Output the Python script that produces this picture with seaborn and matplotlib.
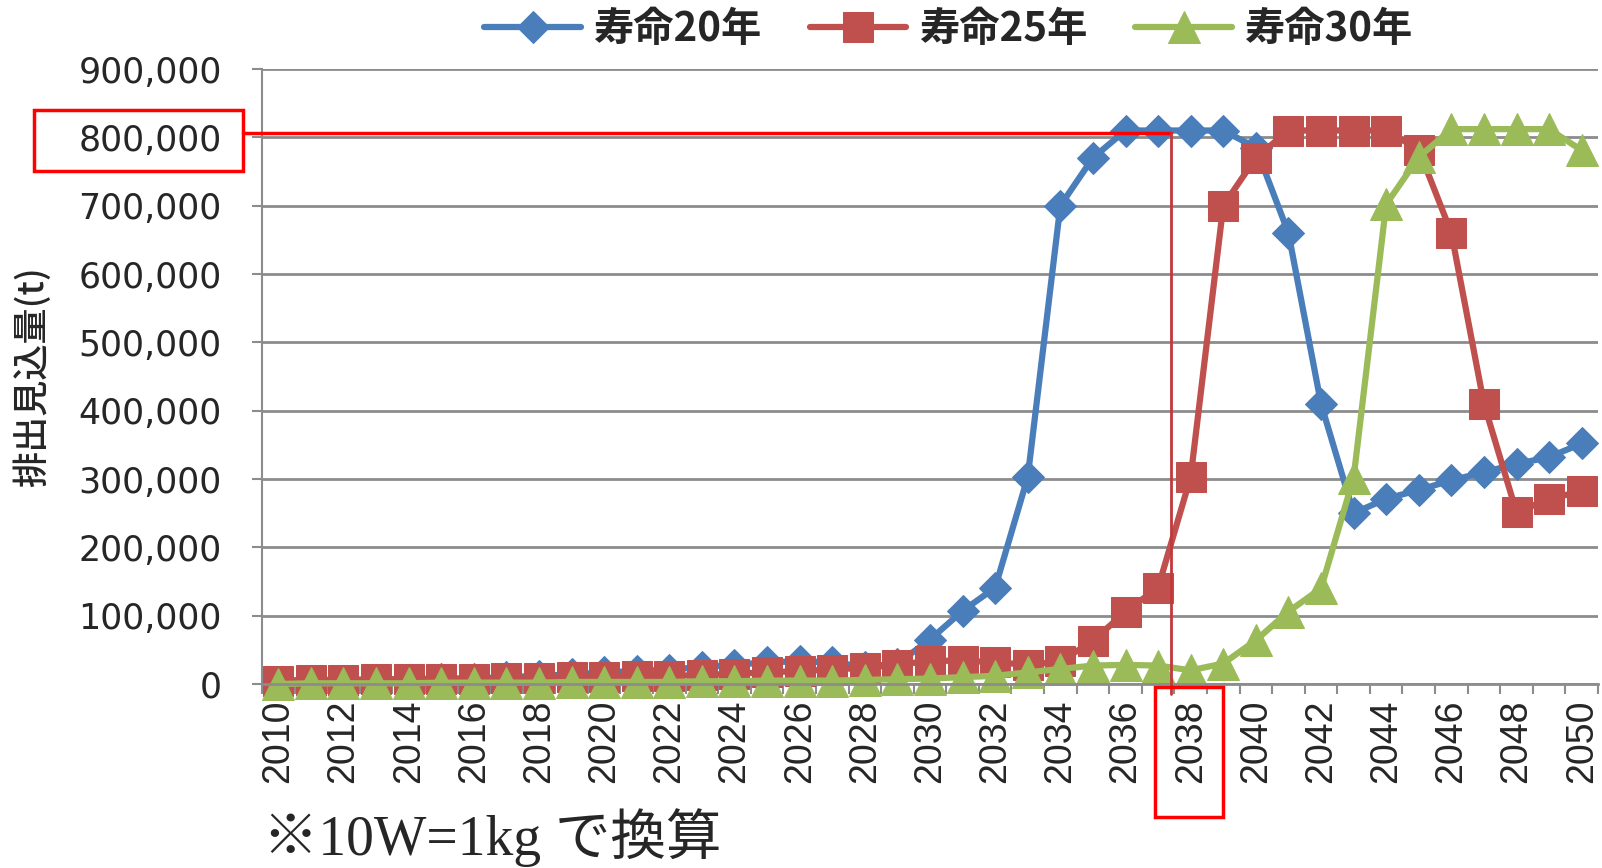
import numpy as np
import pandas as pd
import seaborn as sns
import matplotlib.pyplot as plt
from matplotlib.patches import Rectangle
from matplotlib.ticker import FuncFormatter, MultipleLocator

# 年
years = list(range(2010, 2051))

# 寿命20年
life20 = [3000, 3000, 4000, 5000, 6000, 7000, 8000, 10000, 12000, 14000,
          17000, 19000, 21000, 25000, 28000, 32000, 33000, 32000, 25000, 30000,
          65000, 107000, 141000, 303000, 700000, 770000, 810000, 810000, 810000, 810000,
          785000, 660000, 410000, 250000, 271000, 284000, 298000, 310000, 322000, 332000,
          352000]

# 寿命25年
life25 = [5000, 6000, 6000, 7000, 7000, 8000, 8000, 9000, 9000, 10000,
          10000, 11000, 12000, 13000, 15000, 17000, 19000, 21000, 24000, 28000,
          34000, 34000, 32000, 28000, 33000, 63000, 106000, 141000, 303000, 700000,
          770000, 810000, 810000, 810000, 810000, 782000, 660000, 410000, 251000, 271000,
          282000]

# 寿命30年
life30 = [0, 1000, 1000, 1000, 1000, 2000, 2000, 2000, 2000, 3000,
          3000, 3000, 3000, 4000, 4000, 5000, 5000, 5000, 6000, 7000,
          8000, 10000, 12000, 17000, 22000, 27000, 28000, 27000, 20000, 30000,
          64000, 106000, 140000, 302000, 702000, 771000, 812000, 812000, 812000, 812000,
          781000]

series_names = ["寿命20年", "寿命25年", "寿命30年"]
colors = ["#4A7EBB", "#C0504D", "#9BBB59"]
markers = ["D", "s", "^"]
msizes = [16, 22, 23]

df = pd.DataFrame({"year": years * 3,
                   "value": life20 + life25 + life30,
                   "series": sum([[n] * len(years) for n in series_names], [])})

sns.set_style("white")
plt.rcParams['font.family'] = ['DejaVu Sans', 'Noto Sans CJK JP']

fig = plt.figure(figsize=(16.02, 8.68), dpi=100)
ax = fig.add_axes([262 / 1602, 1 - 684 / 868, 1336 / 1602, 615 / 868])

for name, c, m, ms in zip(series_names, colors, markers, msizes):
    sub = df[df["series"] == name]
    sns.lineplot(data=sub, x="year", y="value", ax=ax, color=c, linewidth=4.5,
                 marker=m, markersize=ms, markeredgecolor=c, label=name,
                 clip_on=False)

ax.set_xlim(2009.5, 2050.5)
ax.set_ylim(0, 900000)
ax.yaxis.set_major_locator(MultipleLocator(100000))
ax.yaxis.set_major_formatter(FuncFormatter(lambda v, p: f"{int(v):,}"))
ax.grid(axis="y", color="#8C8C8C", linewidth=2)
ax.set_axisbelow(True)

for s in ["top", "right"]:
    ax.spines[s].set_visible(False)
ax.spines["left"].set_color("#8C8C8C")
ax.spines["left"].set_linewidth(1.5)
ax.spines["bottom"].set_color("#8C8C8C")
ax.spines["bottom"].set_linewidth(2)

ax.set_xticks(range(2010, 2051, 2))
ax.set_xticks(np.arange(2009.5, 2051, 1), minor=True)
ax.tick_params(axis="x", which="major", length=0, pad=11, labelrotation=90,
               labelsize=27)
ax.tick_params(axis="x", which="minor", length=7, width=1.5, color="#8C8C8C",
               direction="out", bottom=True)
for lab in ax.get_xticklabels():
    lab.set_family(["Liberation Sans", "DejaVu Sans"])
ax.tick_params(axis="y", length=7, width=1.5, color="#8C8C8C", left=True,
               pad=22, labelsize=25)

ax.set_xlabel("")
ax.set_ylabel("排出見込量(t)", fontsize=26, family=["Noto Sans CJK JP"],
              weight="medium")
ax.yaxis.set_label_coords(-0.158, 0.5)

leg = ax.legend(loc="center", bbox_to_anchor=(0.592, 0.966), bbox_transform=fig.transFigure,
                ncol=3, frameon=False, handlelength=2.4,
                handletextpad=0.3, columnspacing=1.2,
                prop={"family": ["Noto Sans CJK JP"], "size": 29, "weight": "bold"})

# 強調線と枠
ax.plot([2008.92, 2037.4], [806000, 806000], color="#FF0000", linewidth=2.5,
        clip_on=False, zorder=5)
ax.plot([2037.4, 2037.4], [806000, -14000], color="#C0393B", linewidth=2,
        clip_on=False, zorder=5)
fig.add_artist(Rectangle((34 / 1602, 1 - 171 / 868), 209 / 1602, 61 / 868,
                         transform=fig.transFigure, fill=False,
                         edgecolor="#FF0000", linewidth=2.5))
fig.add_artist(Rectangle((1155 / 1602, 1 - 817 / 868), 68 / 1602, 130 / 868,
                         transform=fig.transFigure, fill=False,
                         edgecolor="#FF0000", linewidth=2.5))

fig.text(263 / 1602, 1 - 855 / 868, "※10W=1kg で換算", fontsize=40,
         va="baseline", ha="left", family=["Liberation Serif", "Noto Sans CJK JP"])

fig.savefig("out.png", dpi=100)
